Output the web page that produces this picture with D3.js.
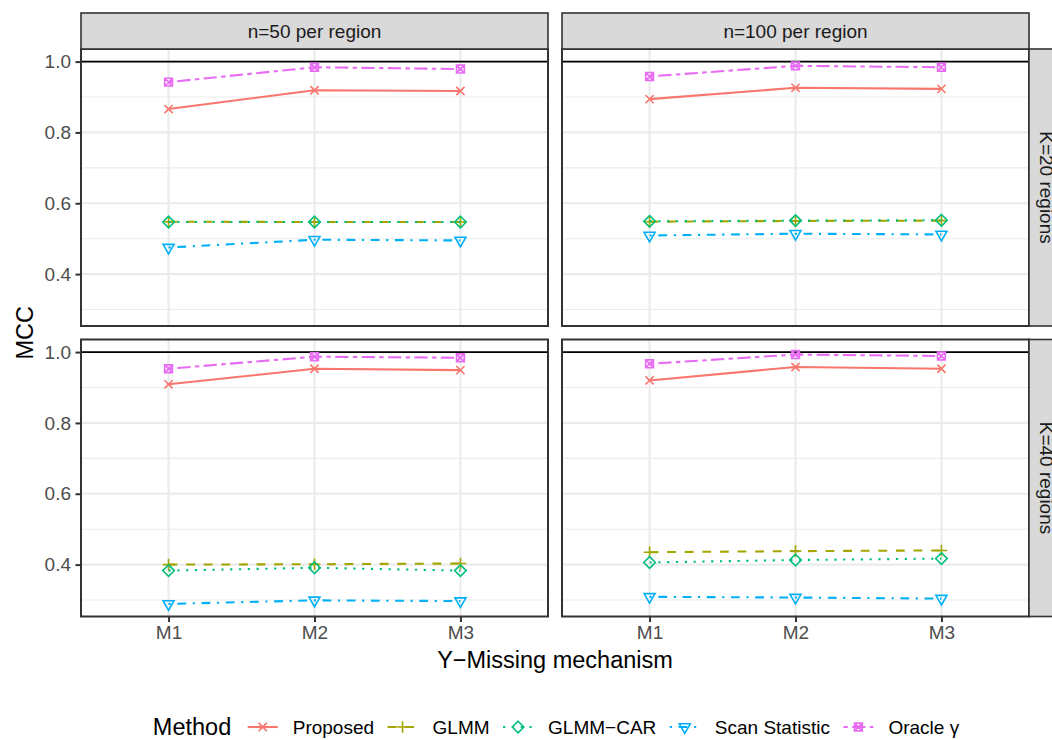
<!DOCTYPE html>
<html>
<head>
<meta charset="utf-8">
<script src="https://cdn.jsdelivr.net/npm/d3@7"></script>
<style>
body { margin: 0; background: #fff; }
svg { display: block; font-family: "Liberation Sans", Arial, Helvetica, sans-serif; }
</style>
</head>
<body>
<div class="chart"></div>
<script>
var mechanisms = ["M1", "M2", "M3"];
var methods = ["Proposed", "GLMM", "GLMM\u2212CAR", "Scan Statistic", "Oracle \u03b3"];
var colNames = ["n=50 per region", "n=100 per region"];
var rowNames = ["K=20 regions", "K=40 regions"];
var yTicks = [0.4, 0.6, 0.8, 1.0];
var yMinor = [0.3, 0.5, 0.7, 0.9];
var refLine = 1.0;

// one row per panel: K=20 n=50, K=20 n=100, K=40 n=50, K=40 n=100 ; columns M1..M3
var proposed = [[0.866, 0.919, 0.917], [0.894, 0.926, 0.923], [0.909, 0.953, 0.949], [0.920, 0.958, 0.953]];
var glmm     = [[0.548, 0.547, 0.547], [0.548, 0.550, 0.551], [0.400, 0.401, 0.403], [0.435, 0.438, 0.440]];
var glmmCar  = [[0.547, 0.547, 0.547], [0.549, 0.551, 0.552], [0.383, 0.391, 0.383], [0.406, 0.413, 0.417]];
var scan     = [[0.475, 0.497, 0.495], [0.509, 0.514, 0.512], [0.289, 0.299, 0.297], [0.309, 0.307, 0.304]];
var oracle   = [[0.942, 0.984, 0.979], [0.958, 0.988, 0.984], [0.953, 0.987, 0.984], [0.967, 0.993, 0.989]];

var seriesValues = [proposed, glmm, glmmCar, scan, oracle];

// styles (ggplot hue palette, linetypes, shapes)
var colors = ["#F8766D", "#A3A500", "#00BF7D", "#00B0F6", "#E76BF3"];
var u = 2.2;
var dashes = ["none", [4*u, 4*u].join(","), [1*u, 3*u].join(","), [1*u, 3*u, 4*u, 3*u].join(","), [2*u, 2*u, 6*u, 2*u].join(",")];
var smallFont = "19px", bigFont = "23.5px";

function shapePath(i) {
    var r = 4.1, s = 5.8, h = 3.9;
    if (i == 0) return "M" + (-r) + "," + (-r) + "L" + r + "," + r + "M" + (-r) + "," + r + "L" + r + "," + (-r);
    if (i == 1) return "M" + (-s) + ",0H" + s + "M0," + (-s) + "V" + s;
    if (i == 2) return "M0," + (-s) + "L" + s + ",0L0," + s + "L" + (-s) + ",0Z";
    if (i == 3) return "M0,6.4L5.5,-3.2L-5.5,-3.2Z";
    return "M" + (-h) + "," + (-h) + "H" + h + "V" + h + "H" + (-h) + "Z" +
           "M" + (-h) + "," + (-h) + "L" + h + "," + h + "M" + (-h) + "," + h + "L" + h + "," + (-h);
}

var width = 1052, height = 740;
var panelLeft = [81, 562], panelTop = [49, 339.5];
var panelW = 467, panelH = 277, stripH = 36;

var svg = d3.select(".chart").append("svg")
    .attr("width", width)
    .attr("height", height);

svg.append("rect").attr("width", width).attr("height", height).attr("fill", "#fff");

var x = d3.scalePoint()
    .domain(mechanisms)
    .range([0, panelW])
    .padding(0.6);

var allVals = [refLine];
seriesValues.forEach(function(s){ s.forEach(function(p){ allVals = allVals.concat(p); }); });
var lo = d3.min(allVals), hi = d3.max(allVals), pad = (hi - lo) * 0.05;

var y = d3.scaleLinear()
    .domain([lo - pad, hi + pad])
    .range([panelH, 0]);

var line = d3.line()
    .x(function(d){ return x(d.m); })
    .y(function(d){ return y(d.v); });

for (var row = 0; row < 2; row++) {
    for (var col = 0; col < 2; col++) {
        var p = row * 2 + col;
        var g = svg.append("g")
            .attr("transform", "translate(" + panelLeft[col] + "," + panelTop[row] + ")");

        // grid
        g.selectAll(".minor").data(yMinor).enter().append("line")
            .attr("x1", 0).attr("x2", panelW)
            .attr("y1", function(d){ return y(d); }).attr("y2", function(d){ return y(d); })
            .attr("stroke", "#EBEBEB").attr("stroke-width", 1.1);
        g.selectAll(".major").data(yTicks).enter().append("line")
            .attr("x1", 0).attr("x2", panelW)
            .attr("y1", function(d){ return y(d); }).attr("y2", function(d){ return y(d); })
            .attr("stroke", "#EBEBEB").attr("stroke-width", 2.2);
        g.selectAll(".vgrid").data(mechanisms).enter().append("line")
            .attr("x1", function(d){ return x(d); }).attr("x2", function(d){ return x(d); })
            .attr("y1", 0).attr("y2", panelH)
            .attr("stroke", "#EBEBEB").attr("stroke-width", 2.2);

        // reference line
        g.append("line")
            .attr("x1", 0).attr("x2", panelW)
            .attr("y1", y(refLine)).attr("y2", y(refLine))
            .attr("stroke", "#000").attr("stroke-width", 1.8);

        seriesValues.forEach(function(s, i){
            var pts = mechanisms.map(function(m, j){ return {m: m, v: s[p][j]}; });
            g.append("path")
                .datum(pts)
                .attr("d", line)
                .attr("fill", "none")
                .attr("stroke", colors[i])
                .attr("stroke-width", 2.1)
                .attr("stroke-dasharray", dashes[i]);
            g.selectAll(".pt" + i).data(pts).enter().append("path")
                .attr("transform", function(d){ return "translate(" + x(d.m) + "," + y(d.v) + ")"; })
                .attr("d", shapePath(i))
                .attr("fill", "none")
                .attr("stroke", colors[i])
                .attr("stroke-width", 1.6);
        });

        // panel border
        g.append("rect")
            .attr("width", panelW).attr("height", panelH)
            .attr("fill", "none").attr("stroke", "#333333").attr("stroke-width", 2);

        // axes
        if (col == 0) {
            var yAxis = g.append("g").call(d3.axisLeft(y).tickValues(yTicks).tickFormat(d3.format(".1f")).tickSize(5.5).tickPadding(4.5));
            yAxis.select(".domain").remove();
            yAxis.selectAll("line").attr("stroke", "#333333").attr("stroke-width", 2);
            yAxis.selectAll("text").attr("fill", "#4D4D4D").style("font-size", smallFont)
                .style("font-family", "'Liberation Sans', Arial, sans-serif");
        }
        if (row == 1) {
            var xAxis = g.append("g").attr("transform", "translate(0," + panelH + ")")
                .call(d3.axisBottom(x).tickSize(5.5).tickPadding(4));
            xAxis.select(".domain").remove();
            xAxis.selectAll("line").attr("stroke", "#333333").attr("stroke-width", 2);
            xAxis.selectAll("text").attr("fill", "#4D4D4D").style("font-size", smallFont)
                .style("font-family", "'Liberation Sans', Arial, sans-serif");
        }

        // strips
        if (row == 0) {
            svg.append("rect")
                .attr("x", panelLeft[col]).attr("y", panelTop[0] - stripH)
                .attr("width", panelW).attr("height", stripH)
                .attr("fill", "#D9D9D9").attr("stroke", "#333333").attr("stroke-width", 1.6);
            svg.append("text")
                .attr("x", panelLeft[col] + panelW / 2).attr("y", panelTop[0] - stripH / 2)
                .attr("dy", "0.35em").attr("text-anchor", "middle")
                .attr("fill", "#1A1A1A").style("font-size", smallFont)
                .text(colNames[col]);
        }
        if (col == 1) {
            var sx = panelLeft[1] + panelW;
            svg.append("rect")
                .attr("x", sx).attr("y", panelTop[row])
                .attr("width", stripH).attr("height", panelH)
                .attr("fill", "#D9D9D9").attr("stroke", "#333333").attr("stroke-width", 1.6);
            svg.append("text")
                .attr("transform", "translate(" + (sx + stripH / 2) + "," + (panelTop[row] + panelH / 2) + ") rotate(90)")
                .attr("dy", "0.35em").attr("text-anchor", "middle")
                .attr("fill", "#1A1A1A").style("font-size", smallFont)
                .text(rowNames[row]);
        }
    }
}

// axis titles
svg.append("text")
    .attr("x", (panelLeft[0] + panelLeft[1] + panelW) / 2).attr("y", 668)
    .attr("text-anchor", "middle").style("font-size", bigFont).attr("fill", "#000")
    .text("Y\u2212Missing mechanism");
svg.append("text")
    .attr("transform", "translate(33," + (panelTop[0] + (panelTop[1] + panelH - panelTop[0]) / 2) + ") rotate(-90)")
    .attr("text-anchor", "middle").style("font-size", bigFont).attr("fill", "#000")
    .text("MCC");

// legend
var legend = svg.append("g");
var legY = 727;
var lt = legend.append("text").attr("x", 0).attr("y", legY).attr("dy", "0.35em")
    .style("font-size", bigFont).attr("fill", "#000").text("Method");
var cx = lt.node().getComputedTextLength() + 16.5;
methods.forEach(function(m, i){
    var k = legend.append("g").attr("transform", "translate(" + cx + "," + legY + ")");
    k.append("line").attr("x1", 0).attr("x2", 30).attr("y1", 0).attr("y2", 0)
        .attr("stroke", colors[i]).attr("stroke-width", 2.1).attr("stroke-dasharray", dashes[i]);
    k.append("path").attr("transform", "translate(15,0)").attr("d", shapePath(i))
        .attr("fill", "none").attr("stroke", colors[i]).attr("stroke-width", 1.6);
    var t = legend.append("text").attr("x", cx + 45).attr("y", legY).attr("dy", "0.35em")
        .style("font-size", smallFont).attr("fill", "#000").text(m);
    cx = cx + 45 + t.node().getComputedTextLength() + 13.5;
});
var legW = cx - 13.5;
legend.attr("transform", "translate(" + (556 - legW / 2) + ",0)");
</script>
</body>
</html>
